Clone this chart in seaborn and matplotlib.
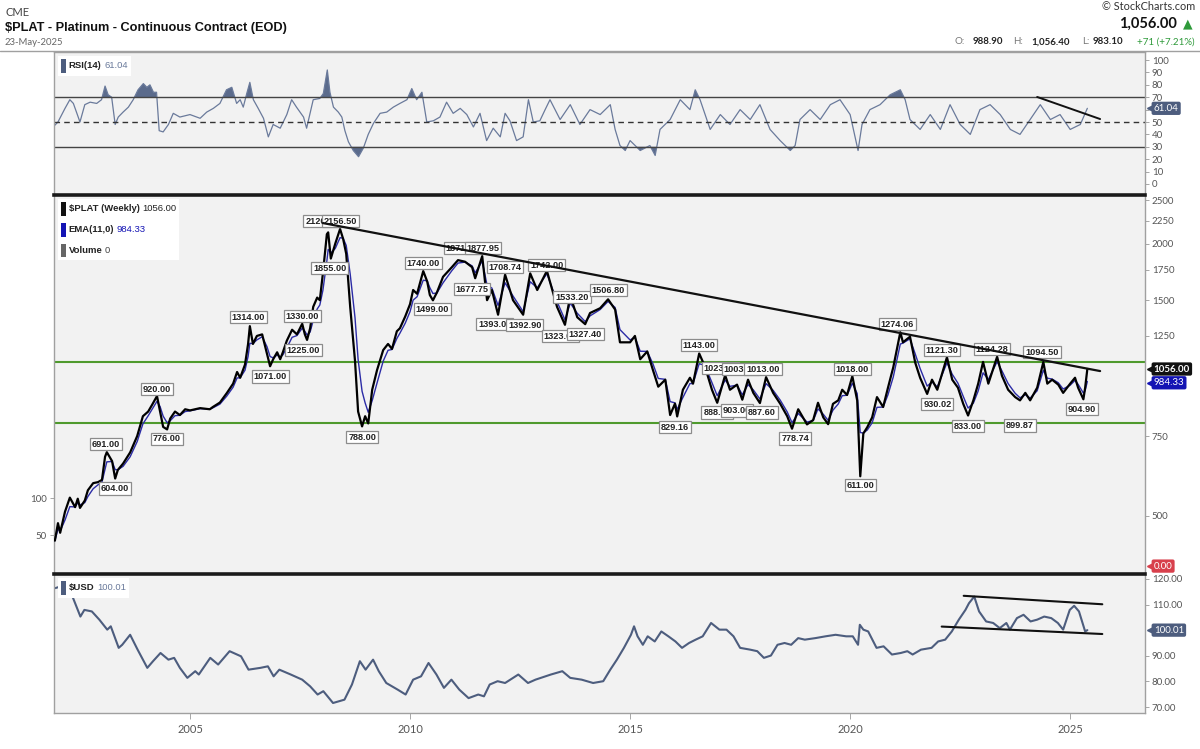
import numpy as np
import pandas as pd
import matplotlib
matplotlib.use("Agg")
import matplotlib.pyplot as plt
import seaborn as sns
from matplotlib.offsetbox import TextArea, HPacker, VPacker, AnchoredOffsetbox, DrawingArea
from matplotlib.patches import Rectangle

# ---- data ----
price_year = [2001.93, 2002.00, 2002.05, 2002.16, 2002.27, 2002.39, 2002.45, 2002.50, 2002.61, 2002.68, 2002.80, 2002.91,
              2003.00, 2003.07, 2003.11, 2003.23, 2003.30, 2003.36, 2003.48, 2003.64, 2003.80, 2003.93,
              2004.05, 2004.14, 2004.25, 2004.32, 2004.39, 2004.48, 2004.55, 2004.66, 2004.77, 2004.89,
              2005.00, 2005.23, 2005.45, 2005.52, 2005.68, 2005.84, 2005.98,
              2006.07, 2006.14, 2006.25, 2006.32, 2006.36, 2006.43, 2006.52, 2006.64, 2006.75, 2006.82, 2006.89, 2006.98,
              2007.05, 2007.11, 2007.20, 2007.32, 2007.43, 2007.55, 2007.61, 2007.66, 2007.73, 2007.80, 2007.89, 2007.95,
              2008.02, 2008.11, 2008.14, 2008.20, 2008.30, 2008.41, 2008.48, 2008.55, 2008.64, 2008.75, 2008.82, 2008.91, 2008.98,
              2009.05, 2009.14, 2009.25, 2009.39, 2009.50, 2009.59, 2009.70, 2009.77, 2009.89,
              2010.00, 2010.07, 2010.16, 2010.30, 2010.39, 2010.45, 2010.52, 2010.61, 2010.75, 2010.95,
              2011.09, 2011.25, 2011.41, 2011.48, 2011.64, 2011.75, 2011.86,
              2012.00, 2012.16, 2012.34, 2012.57, 2012.73, 2012.89,
              2013.11, 2013.34, 2013.52, 2013.64, 2013.80, 2013.98,
              2014.09, 2014.32, 2014.50, 2014.66, 2014.77,
              2015.00, 2015.11, 2015.23, 2015.39, 2015.52, 2015.64, 2015.80, 2015.91,
              2016.02, 2016.07, 2016.20, 2016.36, 2016.43, 2016.57, 2016.70, 2016.86, 2016.98,
              2017.16, 2017.27, 2017.43, 2017.55, 2017.68, 2017.80, 2017.95,
              2018.09, 2018.25, 2018.41, 2018.57, 2018.68, 2018.82,
              2019.02, 2019.16, 2019.27, 2019.39, 2019.50, 2019.61, 2019.73, 2019.82, 2019.93,
              2020.05, 2020.16, 2020.23, 2020.30, 2020.39, 2020.50, 2020.61, 2020.75, 2020.86, 2020.98,
              2021.14, 2021.20, 2021.36, 2021.48, 2021.59, 2021.75, 2021.86, 2021.98,
              2022.20, 2022.32, 2022.45, 2022.57, 2022.68, 2022.80, 2022.91,
              2023.02, 2023.14, 2023.34, 2023.45, 2023.59, 2023.75, 2023.86, 2023.98,
              2024.09, 2024.25, 2024.39, 2024.48, 2024.59, 2024.73, 2024.84,
              2025.00, 2025.11, 2025.18, 2025.30, 2025.34, 2025.39]
price_close = [440, 481, 458, 510, 548, 522, 545, 520, 540, 569, 590, 593,
               600, 675, 691, 660, 604, 631, 652, 690, 750, 830,
               850, 880, 920, 850, 786, 776, 820, 850, 835, 860,
               855, 865, 860, 870, 890, 935, 980,
               1040, 1010, 1080, 1200, 1314, 1200, 1250, 1260, 1140, 1071, 1110, 1150,
               1110, 1150, 1220, 1290, 1260, 1330, 1260, 1225, 1300, 1450, 1520, 1500,
               1720, 2100, 2120, 1855, 2000, 2156.5, 2050, 1900, 1450, 1100, 850, 788, 830,
               800, 950, 1050, 1163, 1200, 1170, 1280, 1300, 1380,
               1470, 1580, 1550, 1740, 1650, 1540, 1499, 1560, 1690, 1775,
               1840, 1825, 1775, 1677.75, 1877.95, 1500, 1580,
               1393, 1708.74, 1500, 1392.9, 1720, 1580,
               1742, 1450, 1323, 1533.2, 1375, 1327.4,
               1405, 1440, 1506.8, 1430, 1210,
               1210, 1250, 1110, 1155, 1050, 965, 1000, 835,
               885, 829.16, 950, 1010, 980, 1143, 1070, 950, 888.9,
               1023, 950, 975, 903, 1000, 935, 887.6,
               1013, 935, 885, 830, 778.74, 860,
               796, 814, 889, 825, 797, 884, 900, 950, 925,
               1018, 900, 611, 760, 785, 825, 915, 870, 960, 1065,
               1274.06, 1210, 1245, 1090, 1010, 930.02, 1000, 950,
               1121.3, 1000, 960, 884, 833, 900, 980,
               1095, 980, 1124.28, 1020, 950, 915, 899.87, 935,
               900, 960, 1094.5, 980, 1000, 975, 935,
               980, 1010, 960, 904.9, 960, 1056]

rsi_year = [2001.89, 2002.00, 2002.16, 2002.27, 2002.35, 2002.50, 2002.61, 2002.73, 2002.88, 2002.99,
            2003.07, 2003.14, 2003.22, 2003.30, 2003.37, 2003.48, 2003.60, 2003.71, 2003.82, 2003.94,
            2004.02, 2004.09, 2004.17, 2004.24, 2004.30, 2004.39, 2004.51, 2004.62, 2004.77,
            2005.00, 2005.23, 2005.38, 2005.53, 2005.68, 2005.83, 2005.95,
            2006.06, 2006.14, 2006.21, 2006.29, 2006.36, 2006.44, 2006.55, 2006.67, 2006.78, 2006.89,
            2007.05, 2007.20, 2007.31, 2007.42, 2007.58, 2007.65, 2007.80, 2007.95,
            2008.03, 2008.12, 2008.18, 2008.26, 2008.37, 2008.45, 2008.52, 2008.60, 2008.71, 2008.83, 2008.94,
            2009.05, 2009.17, 2009.32, 2009.47, 2009.62, 2009.77, 2009.93,
            2010.04, 2010.15, 2010.27, 2010.38, 2010.53, 2010.68, 2010.83, 2010.98,
            2011.14, 2011.29, 2011.44, 2011.59, 2011.74, 2011.89,
            2012.05, 2012.16, 2012.27, 2012.42, 2012.57, 2012.69, 2012.80, 2012.95,
            2013.07, 2013.18, 2013.41, 2013.64, 2013.86, 2014.09, 2014.32, 2014.55, 2014.66, 2014.77, 2014.89,
            2015.00, 2015.23, 2015.45, 2015.57, 2015.68, 2015.91, 2016.14, 2016.36, 2016.48, 2016.59, 2016.82,
            2017.05, 2017.27, 2017.50, 2017.73, 2017.95, 2018.18, 2018.41, 2018.64, 2018.75, 2018.86,
            2019.09, 2019.32, 2019.55, 2019.77, 2020.00, 2020.18, 2020.27, 2020.45, 2020.68, 2020.91,
            2021.14, 2021.25, 2021.36, 2021.59, 2021.82, 2022.05, 2022.27, 2022.50, 2022.73, 2022.95,
            2023.18, 2023.41, 2023.64, 2023.86, 2024.09, 2024.32, 2024.55, 2024.77, 2025.00, 2025.23, 2025.39]
rsi_value = [46, 50, 61, 68, 65, 50, 64, 66, 65, 68,
             79, 72, 70, 48, 54, 58, 62, 68, 76, 81,
             78, 80, 74, 74, 43, 42, 48, 57, 54,
             56, 53, 58, 61, 65, 76, 78,
             65, 68, 62, 73, 82, 68, 61, 53, 38, 48,
             45, 56, 68, 62, 54, 45, 68, 69,
             73, 92, 74, 62, 58, 54, 43, 34, 27, 22, 29,
             40, 49, 57, 58, 62, 65, 68,
             77, 68, 74, 50, 51, 54, 66, 57,
             61, 56, 46, 57, 35, 45,
             38, 57, 51, 35, 38, 68, 50, 51,
             60, 68, 52, 64, 48, 60, 56, 64, 44, 31, 27,
             35, 27, 31, 23, 44, 52, 68, 60, 76, 68, 44,
             56, 48, 60, 52, 64, 44, 35, 27, 31, 52,
             60, 52, 64, 68, 56, 27, 48, 60, 64, 72,
             76, 68, 52, 44, 56, 44, 64, 48, 40, 60,
             64, 56, 44, 40, 52, 64, 52, 56, 44, 48, 61.04]

usd_year = [2001.94, 2002.07, 2002.20, 2002.33, 2002.51, 2002.60, 2002.77, 2002.94, 2003.12, 2003.20, 2003.38, 2003.46,
            2003.64, 2003.81, 2004.03, 2004.16, 2004.33, 2004.51, 2004.64, 2004.77, 2004.94, 2005.12, 2005.20, 2005.46,
            2005.64, 2005.90, 2006.16, 2006.33, 2006.60, 2006.77, 2006.90, 2007.03, 2007.29, 2007.55, 2007.73, 2007.90,
            2008.03, 2008.25, 2008.51, 2008.68, 2008.86, 2008.99, 2009.16, 2009.29, 2009.46, 2009.72, 2009.90, 2010.07,
            2010.25, 2010.42, 2010.60, 2010.77, 2010.94, 2011.12, 2011.33, 2011.55, 2011.68, 2011.81, 2011.99, 2012.16,
            2012.46, 2012.68, 2012.85, 2013.20, 2013.46, 2013.64, 2013.90, 2014.16, 2014.39, 2014.55, 2014.70, 2014.86,
            2015.02, 2015.09, 2015.17, 2015.29, 2015.40, 2015.56, 2015.71, 2015.87, 2016.03, 2016.18, 2016.34, 2016.49,
            2016.65, 2016.84, 2017.03, 2017.19, 2017.35, 2017.50, 2017.73, 2017.89, 2018.04, 2018.20, 2018.35, 2018.51,
            2018.66, 2018.82, 2018.97, 2019.21, 2019.44, 2019.67, 2019.91, 2020.06, 2020.18, 2020.22, 2020.30, 2020.41,
            2020.60, 2020.76, 2020.95, 2021.15, 2021.30, 2021.42, 2021.61, 2021.85, 2022.00, 2022.16, 2022.31, 2022.47,
            2022.62, 2022.70, 2022.82, 2022.93, 2023.09, 2023.25, 2023.40, 2023.55, 2023.63, 2023.79, 2023.94, 2024.10,
            2024.25, 2024.41, 2024.57, 2024.72, 2024.84, 2024.99, 2025.09, 2025.20, 2025.28, 2025.34, 2025.39]
usd_value = [116.4, 117.1, 118.3, 113.1, 105.3, 107.9, 107.3, 104.1, 100.2, 101.5, 93.1, 94.3,
             98.2, 92.4, 85.3, 87.9, 91.1, 88.5, 89.2, 85.3, 81.4, 84.0, 82.7, 89.2,
             86.6, 91.8, 89.8, 84.6, 85.3, 85.9, 82.0, 84.6, 82.7, 80.7, 78.1, 74.9,
             76.2, 71.6, 72.9, 78.8, 87.9, 84.6, 88.5, 84.0, 79.4, 76.8, 74.9, 80.7,
             82.0, 87.2, 82.7, 77.5, 80.7, 76.8, 73.5, 74.9, 74.2, 78.8, 80.1, 79.4,
             82.7, 79.4, 80.7, 82.7, 84.0, 81.4, 80.7, 79.4, 80.1, 84.6, 88.5, 93.1,
             98.2, 101.5, 97.6, 94.3, 97.6, 95.6, 99.5, 97.6, 95.6, 93.1, 95.0, 96.3,
             97.6, 102.8, 100.2, 100.2, 97.6, 93.1, 92.4, 91.8, 89.2, 90.1, 94.3, 95.0,
             94.3, 96.9, 96.3, 96.9, 97.6, 98.2, 97.6, 97.6, 94.3, 102.1, 100.2, 99.5,
             93.1, 93.7, 90.5, 91.1, 91.8, 90.5, 92.4, 93.1, 95.6, 96.3, 99.5, 104.1,
             107.9, 110.5, 113.1, 107.3, 103.4, 102.8, 100.8, 102.8, 100.2, 104.7, 106.0, 103.4,
             104.1, 105.3, 104.7, 102.8, 100.2, 107.9, 109.5, 107.3, 102.8, 99.5, 100.01]

# drawn trend lines and support/resistance levels
price_trend_year = [2008.02, 2025.68]
price_trend_value = [2223, 1045]
rsi_trend_year = [2024.25, 2025.68]
rsi_trend_value = [70.2, 52.4]
usd_upper_year = [2022.58, 2025.73]
usd_upper_value = [113.4, 110.1]
usd_lower_year = [2022.08, 2025.73]
usd_lower_value = [101.4, 98.5]
price_levels = [1094, 801]

# peak/trough annotation texts with their (year, price) label centres
peak_text = ["691.00", "604.00", "920.00", "776.00", "1314.00", "1071.00", "1330.00", "1225.00",
             "2120.00", "2156.50", "1855.00", "788.00", "1740.00", "1499.00", "1871.00", "1877.95",
             "1677.75", "1393.00", "1708.74", "1392.90", "1742.00", "1533.20", "1323.00", "1327.40",
             "1506.80", "1143.00", "829.16", "1023.00", "1003.00", "1013.00", "888.90", "903.00",
             "887.60", "778.74", "1018.00", "611.00", "1274.06", "1121.30", "930.02", "833.00",
             "1124.28", "899.87", "1094.50", "904.90"]
peak_year = [2003.09, 2003.30, 2004.25, 2004.48, 2006.32, 2006.82, 2007.55, 2007.57,
             2008.00, 2008.41, 2008.18, 2008.91, 2010.30, 2010.50, 2011.18, 2011.66,
             2011.41, 2011.93, 2012.16, 2012.61, 2013.11, 2013.68, 2013.41, 2013.98,
             2014.50, 2016.57, 2016.02, 2017.05, 2017.50, 2018.02, 2016.98, 2017.43,
             2018.00, 2018.75, 2020.05, 2020.23, 2021.07, 2022.09, 2021.98, 2022.68,
             2023.23, 2023.86, 2024.36, 2025.27]
peak_price = [720, 575, 953, 739, 1376, 1018, 1383, 1163,
              2246, 2246, 1767, 746, 1813, 1433, 1957, 1957,
              1588, 1328, 1776, 1321, 1794, 1524, 1249, 1262,
              1580, 1193, 785, 1061, 1056, 1056, 847, 856,
              847, 742, 1056, 584, 1328, 1163, 883, 789,
              1169, 792, 1151, 861]

assert len(price_year) == len(price_close)
assert len(rsi_year) == len(rsi_value)
assert len(usd_year) == len(usd_value)
assert len(peak_text) == len(peak_year) == len(peak_price)

# ---- style ----
sns.set_theme(style="white")
plt.rcParams["font.family"] = ["Lato", "DejaVu Sans"]
NARROW = dict(family="Liberation Sans")

PANEL_BG = "#f2f2f2"
TICK_C = "#555555"
SLATE = "#4d5d7e"


def to_dates(years):
    return [pd.Timestamp(int(y), 1, 1) + pd.Timedelta(days=(y - int(y)) * 365.25) for y in years]


# EMA(11) of the weekly close, time weighted so uneven spacing is handled
price_s = pd.Series(price_close, index=pd.DatetimeIndex(to_dates(price_year)))
ema = price_s.ewm(halflife=pd.Timedelta(days=30), times=price_s.index).mean().values

fig = plt.figure(figsize=(12, 7.49), dpi=100)


def fy(px):
    return 1 - px / 749


L, W = 54 / 1200, 1091 / 1200
ax_rsi = fig.add_axes([L, fy(193), W, fy(52) - fy(193)])
ax_px = fig.add_axes([L, fy(572), W, fy(195) - fy(572)], sharex=ax_rsi)
ax_usd = fig.add_axes([L, fy(713), W, fy(574) - fy(713)], sharex=ax_rsi)
ax_vol = ax_px.twinx()   # empty volume scale on the left

x_lo, x_hi = 2001.91, 2026.70

for ax in (ax_rsi, ax_px, ax_usd):
    ax.set_facecolor(PANEL_BG)
    for s in ("left", "right", "bottom", "top"):
        ax.spines[s].set_color("#a0a0a0")
        ax.spines[s].set_linewidth(1)
    ax.yaxis.tick_right()
    ax.tick_params(axis="y", which="both", direction="out", length=3, width=0.6,
                   color="#999999", labelsize=7, labelcolor=TICK_C, pad=2)
    ax.tick_params(axis="x", which="both", bottom=False, labelbottom=False)
for ax in (ax_px, ax_usd):
    ax.spines["top"].set_color("#1a1a1a")
    ax.spines["top"].set_linewidth(2.6)
ax_rsi.spines["bottom"].set_visible(False)
ax_px.spines["bottom"].set_visible(False)

# ---- RSI panel ----
rv = np.array(rsi_value)
ax_rsi.fill_between(rsi_year, rv, 70, where=rv > 70, interpolate=True, color="#5b6b8c", lw=0)
ax_rsi.fill_between(rsi_year, rv, 30, where=rv < 30, interpolate=True, color="#5b6b8c", lw=0)
sns.lineplot(x=rsi_year, y=rsi_value, ax=ax_rsi, color="#6a7a9b", linewidth=0.9,
             estimator=None, sort=False)
ax_rsi.axhline(70, color="#444444", lw=1)
ax_rsi.axhline(30, color="#444444", lw=1)
ax_rsi.axhline(50, color="#333333", lw=1, ls=(0, (4, 3)))
sns.lineplot(x=rsi_trend_year, y=rsi_trend_value, ax=ax_rsi, color="#111111", linewidth=1.4,
             estimator=None, sort=False)
ax_rsi.set_ylim(-7.3, 106.5)
ax_rsi.set_yticks(range(0, 101, 10))
ax_rsi.set_yticklabels([("" if v == 60 else str(v)) for v in range(0, 101, 10)])

# ---- price panel ----
ax_px.set_yscale("log")
for lvl in price_levels:
    ax_px.axhline(lvl, color="#4f9a2d", lw=1.5, zorder=2)
sns.lineplot(x=price_year, y=ema, ax=ax_px, color="#2b2ba6", linewidth=1.0,
             estimator=None, sort=False, zorder=3)
sns.lineplot(x=price_year, y=price_close, ax=ax_px, color="#000000", linewidth=1.6,
             estimator=None, sort=False, zorder=4)
for t, yr, pr in zip(peak_text, peak_year, peak_price):
    ax_px.text(yr, pr, t, ha="center", va="center", fontsize=6.6, fontweight="bold",
               color="#222222", zorder=6, **NARROW,
               bbox=dict(boxstyle="square,pad=0.2", fc="white", ec="#8c8c8c", lw=0.9))
sns.lineplot(x=price_trend_year, y=price_trend_value, ax=ax_px, color="#111111", linewidth=1.6,
             estimator=None, sort=False, zorder=7)
ax_px.set_ylim(375, 2565)
ax_px.set_yticks([500, 750, 1250, 1500, 1750, 2000, 2250, 2500])
ax_px.set_yticklabels(["500", "750", "1250", "1500", "1750", "2000", "2250", "2500"])
ax_px.yaxis.set_minor_locator(matplotlib.ticker.NullLocator())
ax_px.yaxis.tick_right()

ax_vol.set_ylim(0, 510)
ax_vol.yaxis.tick_left()
ax_vol.set_yticks([50, 100])
ax_vol.tick_params(axis="y", direction="out", length=3, width=0.6, color="#999999",
                   labelsize=7, labelcolor=TICK_C, pad=2)
for s in ax_vol.spines.values():
    s.set_visible(False)

# ---- USD panel ----
sns.lineplot(x=usd_year, y=usd_value, ax=ax_usd, color=SLATE, linewidth=1.5,
             estimator=None, sort=False)
for yrs, vals in ((usd_upper_year, usd_upper_value), (usd_lower_year, usd_lower_value)):
    sns.lineplot(x=yrs, y=vals, ax=ax_usd, color="#111111", linewidth=1.5, estimator=None, sort=False)
ax_usd.set_ylim(67.7, 121.9)
ax_usd.set_yticks([70, 80, 90, 110, 120])
ax_usd.set_yticklabels(["70.00", "80.00", "90.00", "110.00", "120.00"])
ax_usd.set_xlim(x_lo, x_hi)
ax_usd.set_xticks([2005, 2010, 2015, 2020, 2025])
ax_usd.set_xticklabels(["2005", "2010", "2015", "2020", "2025"])
ax_usd.tick_params(axis="x", bottom=True, labelbottom=True, direction="out", length=4,
                   width=0.6, color="#999999", labelsize=8, labelcolor=TICK_C, pad=4)
for ax in (ax_rsi, ax_px, ax_usd, ax_vol):
    ax.set_xlabel("")
    ax.set_ylabel("")


# ---- right-hand value tags ----
def tag(ax, yval, text, bg, fg="white", bold=False):
    tr = matplotlib.transforms.blended_transform_factory(ax.transAxes, ax.transData)
    ax.plot([1.006], [yval], marker="<", ms=7, color=bg, transform=tr, clip_on=False, zorder=10)
    ax.text(1.008, yval, text, transform=tr, ha="left", va="center", fontsize=7,
            fontweight="bold" if bold else "normal", color=fg, clip_on=False, zorder=11,
            bbox=dict(boxstyle="round,pad=0.22,rounding_size=0.2", fc=bg, ec="none"))


tag(ax_rsi, 61.04, "61.04", SLATE)
tag(ax_px, 1056, "1056.00", "#111111", bold=True)
tag(ax_px, 984.33, "984.33", "#1414b4")
tag(ax_vol, 8, "0.00", "#d8404c")
tag(ax_usd, 100.01, "100.01", SLATE)


# ---- in-panel legends ----
def legend_row(color, name, value, vcolor):
    da = DrawingArea(3.5, 10, 0, 0)
    da.add_artist(Rectangle((0, 0), 3.5, 10, fc=color, ec="none"))
    t1 = TextArea(name, textprops=dict(size=6.8, weight="bold", color="#222222", **NARROW))
    t2 = TextArea(value, textprops=dict(size=6.8, color=vcolor, **NARROW))
    return HPacker(children=[da, t1, t2], align="center", pad=0, sep=2)


def add_legend(ax, rows):
    box = VPacker(children=rows, align="left", pad=0, sep=5)
    anch = AnchoredOffsetbox(loc="upper left", child=box, pad=0.2, borderpad=0.25, frameon=True)
    anch.patch.set_facecolor("white")
    anch.patch.set_edgecolor("none")
    anch.set_zorder(12)
    ax.add_artist(anch)


add_legend(ax_rsi, [legend_row(SLATE, "RSI(14)", "61.04", "#6a7a9b")])
add_legend(ax_vol, [legend_row("#111111", "$PLAT (Weekly)", "1056.00", "#222222"),
                    legend_row("#1414b4", "EMA(11,0)", "984.33", "#1414b4"),
                    legend_row("#666666", "Volume", "0", "#444444")])
add_legend(ax_usd, [legend_row(SLATE, "$USD", "100.01", "#6a7a9b")])

# ---- header ----
fig.add_artist(matplotlib.lines.Line2D([0, 1], [fy(51), fy(51)], color="#a0a0a0", lw=1))
fig.text(5 / 1200, fy(12), "CME", fontsize=8, color="#444444", va="center")
fig.text(5 / 1200, fy(28), "$PLAT - Platinum - Continuous Contract (EOD)", fontsize=9.2,
         fontweight="bold", color="#111111", va="center", **NARROW)
fig.text(5 / 1200, fy(42.5), "23-May-2025", fontsize=6.8, color="#666666", va="center")

fig.text(1195 / 1200, fy(7), "\u00a9 StockCharts.com", fontsize=7.8, color="#333333",
         ha="right", va="center")
fig.text(1177 / 1200, fy(24), "1,056.00", fontsize=10.5, fontweight="bold", color="#111111",
         ha="right", va="center")
fig.text(1193 / 1200, fy(24), "\u25b2", fontsize=9, color="#2e9a3a", ha="right", va="center",
         family=["DejaVu Sans"])
hdr = [(965, "O:", "#777777", "normal"), (1003, "988.90", "#222222", "bold"),
       (1023, "H:", "#777777", "normal"), (1070, "1,056.40", "#222222", "bold"),
       (1090, "L:", "#777777", "normal"), (1123, "983.10", "#222222", "bold"),
       (1195, "+71 (+7.21%)", "#2e9a3a", "normal")]
for xpx, txt, col, wt in hdr:
    fig.text(xpx / 1200, fy(42), txt, fontsize=7, color=col, fontweight=wt, va="center", ha="right")

fig.savefig("out.png", dpi=100, facecolor="white")
